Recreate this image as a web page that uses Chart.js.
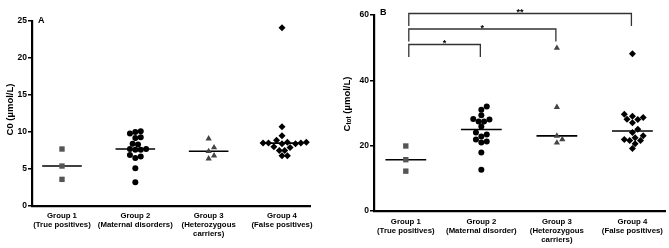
<!DOCTYPE html>
<html>
<head>
<meta charset="utf-8">
<script src="https://cdn.jsdelivr.net/npm/chart.js@4.4.1/dist/chart.umd.min.js"></script>
<style>
body { margin: 0; background: #fff; }
#wrap { position: relative; width: 669px; height: 248px; }
#chartA { position: absolute; left: 0; top: 0; }
#chartB { position: absolute; left: 330px; top: 0; }
</style>
</head>
<body>
<div id="wrap">
  <canvas id="chartA" width="330" height="248"></canvas>
  <canvas id="chartB" width="339" height="248"></canvas>
</div>
<script>
// tick labels
const groupsA = [['Group 1', '(True positives)'], ['Group 2', '(Maternal disorders)'], ['Group 3', '(Heterozygous', 'carriers)'], ['Group 4', '(False positives)']];
const groupsB = [['Group 1', '(True positives)'], ['Group 2', '(Maternal disorder)'], ['Group 3', '(Heterozygous', 'carriers)'], ['Group 4', '(False positives)']];

// panel A : C0 (umol/L)
const c0Group1 = [7.7, 5.4, 3.6];
const c0Group2 = [9.8, 10.1, 10.0, 9.3, 9.2, 8.4, 8.3, 7.7, 7.6, 7.6, 7.7, 6.5, 6.7, 6.9, 5.1, 3.2];
const c0Group3 = [9.1, 7.9, 7.4, 6.8, 6.4];
const c0Group4 = [24.1, 10.7, 9.5, 8.9, 8.5, 8.5, 8.4, 8.5, 8.6, 8.4, 8.6, 7.9, 8.0, 7.5, 7.5, 6.8, 6.8];

// panel B : Ctot (umol/L)
const ctotGroup1 = [19.9, 15.7, 12.2];
const ctotGroup2 = [32.0, 31.0, 29.3, 27.4, 27.4, 28.0, 28.2, 25.9, 22.8, 21.0, 23.4, 21.3, 24.0, 21.9, 17.9, 12.6];
const ctotGroup3 = [49.9, 31.8, 23.0, 20.9, 21.9];
const ctotGroup4 = [48.1, 29.6, 28.1, 28.6, 27.0, 28.0, 29.0, 25.0, 22.4, 21.6, 21.9, 20.6, 24.0, 21.6, 23.0, 19.1];

// significance brackets for panel B
const bracketFrom = [1, 1, 1];
const bracketTo = [2, 3, 4];
const bracketStars = ['*', '*', '**'];

const FONT = "'Liberation Sans', Arial, sans-serif";
const markers = [
  { style: 'rect', color: '#555', r: 3.8 },
  { style: 'circle', color: '#000', r: 3 },
  { style: 'triangle', color: '#444', r: 3.6 },
  { style: 'rectRot', color: '#000', r: 3.5 }
];

function median(arr) {
  const s = arr.slice().sort((a, b) => a - b);
  const m = Math.floor(s.length / 2);
  return s.length % 2 ? s[m] : (s[m - 1] + s[m]) / 2;
}

function buildDatasets(groups) {
  const sets = [];
  groups.forEach((vals, i) => {
    const g = i + 1;
    sets.push({
      type: 'scatter',
      group: g,
      data: vals.map(v => ({ x: g, y: v })),
      pointStyle: markers[i].style,
      pointRadius: markers[i].r,
      pointHoverRadius: markers[i].r,
      backgroundColor: markers[i].color,
      borderColor: markers[i].color,
      borderWidth: 0,
      clip: false
    });
    const med = median(vals);
    sets.push({
      type: 'line',
      data: [{ x: g - 0.27, y: med }, { x: g + 0.27, y: med }],
      borderColor: '#000',
      borderWidth: 1.6,
      pointRadius: 0,
      clip: false
    });
  });
  return sets;
}

// spread points sideways like a column scatter plot
function swarm(chart) {
  const xs = chart.scales.x, ys = chart.scales.y;
  const pxPerX = xs.getPixelForValue(1) - xs.getPixelForValue(0);
  chart.data.datasets.forEach(ds => {
    if (ds.type !== 'scatter') return;
    const placed = [];
    const sorted = ds.data.slice().sort((p, q) => p.y - q.y);
    sorted.forEach(p => {
      const py = ys.getPixelForValue(p.y);
      for (let k = 0; k < 60; k++) {
        const step = k === 0 ? 0 : (k % 2 ? Math.ceil(k / 2) : -k / 2);
        const px = step * 2.7;
        if (placed.every(o => Math.hypot(o.px - px, o.py - py) >= 5.3)) {
          placed.push({ px, py });
          p.x = ds.group + px / pxPerX;
          break;
        }
      }
    });
  });
  chart.update('none');
}

const decor = {
  id: 'decor',
  afterDraw(chart, args, opts) {
    const ctx = chart.ctx, area = chart.chartArea;
    ctx.save();
    ctx.fillStyle = '#000';
    // panel letter
    ctx.font = 'bold 9px ' + FONT;
    ctx.textBaseline = 'alphabetic';
    ctx.textAlign = 'left';
    ctx.fillText(opts.letter, area.left + 6, area.top + opts.letterDy);
    // y axis title (with optional subscript)
    ctx.translate(opts.titleX, (area.top + area.bottom) / 2 + opts.titleDy);
    ctx.rotate(-Math.PI / 2);
    ctx.textBaseline = 'middle';
    const big = 'bold 9.5px ' + FONT, small = 'bold 6.5px ' + FONT;
    ctx.font = big;
    const w1 = ctx.measureText(opts.main).width;
    const w3 = ctx.measureText(opts.rest).width;
    ctx.font = small;
    const w2 = opts.sub ? ctx.measureText(opts.sub).width : 0;
    let x = -(w1 + w2 + w3) / 2;
    ctx.font = big;
    ctx.fillText(opts.main, x, 0);
    x += w1;
    if (opts.sub) {
      ctx.font = small;
      ctx.fillText(opts.sub, x, 2.5);
      x += w2;
    }
    ctx.font = big;
    ctx.fillText(opts.rest, x, 0);
    ctx.restore();

    // brackets
    if (opts.brackets) {
      const xs = chart.scales.x;
      ctx.save();
      ctx.strokeStyle = '#333';
      ctx.fillStyle = '#000';
      ctx.lineWidth = 1.3;
      ctx.font = 'bold 9px ' + FONT;
      ctx.textAlign = 'center';
      ctx.textBaseline = 'alphabetic';
      opts.brackets.from.forEach((f, i) => {
        const x1 = xs.getPixelForValue(f) + 3, x2 = xs.getPixelForValue(opts.brackets.to[i]) - 1;
        const y = area.top + 29.5 - i * 15.5;
        ctx.beginPath();
        ctx.moveTo(x1, y + 12.5);
        ctx.lineTo(x1, y);
        ctx.lineTo(x2, y);
        ctx.lineTo(x2, y + 12.5);
        ctx.stroke();
        ctx.fillText(opts.brackets.stars[i], (x1 + x2) / 2, y + 1.5);
      });
      ctx.restore();
    }
  }
};

function makeChart(id, groups, labels, yMax, yStep, xMin, xMax, pad, yWidth, xHeight, tickPad, deco) {
  const chart = new Chart(document.getElementById(id), {
    type: 'scatter',
    data: { datasets: buildDatasets(groups) },
    options: {
      responsive: false,
      animation: false,
      devicePixelRatio: 1,
      layout: { padding: pad },
      plugins: { legend: { display: false }, tooltip: { enabled: false }, decor: deco },
      scales: {
        x: {
          type: 'linear', min: xMin, max: xMax,
          afterBuildTicks: s => { s.ticks = [1, 2, 3, 4].map(v => ({ value: v })); },
          afterFit: s => { s.height = xHeight; },
          grid: { display: false },
          border: { display: true, color: '#000', width: 2.2 },
          ticks: {
            autoSkip: false, maxRotation: 0, padding: tickPad, color: '#000',
            font: { family: FONT, size: 7.8, weight: 'bold', lineHeight: 1.18 },
            callback: v => labels[v - 1]
          }
        },
        y: {
          min: 0, max: yMax,
          afterFit: s => { s.width = yWidth; },
          grid: { drawOnChartArea: false, drawTicks: true, tickLength: 4, color: '#000', lineWidth: 1.5 },
          border: { display: true, color: '#000', width: 2.2 },
          ticks: { stepSize: yStep, padding: 1, color: '#000', font: { family: FONT, size: 8.5, weight: 'bold' } }
        }
      }
    },
    plugins: [decor]
  });
  swarm(chart);
  return chart;
}

makeChart('chartA', [c0Group1, c0Group2, c0Group3, c0Group4], groupsA, 25, 5, 0.591, 4.382,
  { left: 0, right: 20, top: 21, bottom: 0 }, 32, 42, -3,
  { letter: 'A', letterDy: 2, titleX: 10, titleDy: -4, main: 'C0 (µmol/L)', sub: '', rest: '' });

makeChart('chartB', [ctotGroup1, ctotGroup2, ctotGroup3, ctotGroup4], groupsB, 60, 20, 0.579, 4.434,
  { left: 0, right: 2, top: 15, bottom: 0 }, 44, 37, -2,
  { letter: 'B', letterDy: 0, titleX: 17, titleDy: -9, main: 'C', sub: 'tot', rest: ' (µmol/L)',
    brackets: { from: bracketFrom, to: bracketTo, stars: bracketStars } });
</script>
</body>
</html>
